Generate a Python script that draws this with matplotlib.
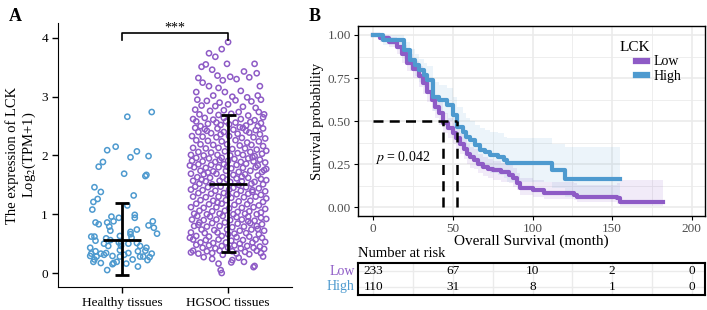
import numpy as np
import matplotlib.pyplot as plt
from matplotlib.ticker import MultipleLocator

plt.rcParams['font.family'] = ['Liberation Serif', 'DejaVu Serif']
plt.rcParams['mathtext.fontset'] = 'stix'

PURPLE = '#8E5BC6'
BLUE = '#4E9ACF'

# ---- Panel A data: jitter offset, expression value ----
groups = ['Healthy tissues', 'HGSOC tissues']
healthy_pts = [
    (0.05, 2.66), (0.28, 2.74), (-0.14, 2.09), (-0.06, 2.15), (0.14, 2.07), (0.08, 1.97),
    (0.25, 1.99), (-0.18, 1.89), (-0.22, 1.81), (0.02, 1.69), (0.22, 1.65), (0.23, 1.67),
    (-0.26, 1.46), (-0.20, 1.38), (0.11, 1.32), (-0.23, 1.26), (-0.27, 1.21), (0.05, 1.15),
    (-0.28, 1.08), (-0.10, 0.96), (-0.03, 0.94), (0.12, 0.99), (0.12, 0.94), (-0.25, 0.86),
    (-0.22, 0.83), (-0.14, 0.86), (-0.08, 0.88), (0.29, 0.88), (0.25, 0.81), (0.30, 0.77),
    (-0.12, 0.79), (-0.11, 0.72), (0.08, 0.70), (0.14, 0.74), (-0.29, 0.62), (-0.26, 0.62),
    (-0.25, 0.55), (-0.15, 0.59), (-0.11, 0.56), (-0.02, 0.63), (0.08, 0.66), (0.09, 0.60),
    (-0.17, 0.50), (-0.03, 0.52), (-0.01, 0.50), (0.14, 0.51), (0.17, 0.46), (0.23, 0.43),
    (-0.30, 0.43), (-0.29, 0.33), (-0.25, 0.37), (-0.20, 0.33), (-0.15, 0.34), (-0.02, 0.39),
    (0.06, 0.34), (0.15, 0.37), (0.22, 0.38), (0.28, 0.33), (-0.30, 0.29), (-0.24, 0.28),
    (-0.17, 0.31), (-0.09, 0.29), (-0.02, 0.28), (0.02, 0.31), (0.17, 0.28), (0.20, 0.28),
    (0.26, 0.27), (-0.27, 0.19), (-0.20, 0.17), (-0.08, 0.17), (-0.05, 0.19), (0.04, 0.16),
    (-0.09, 0.15), (0.15, 0.11), (-0.14, 0.05), (0.24, 0.22), (0.10, 0.23), (-0.26, 0.23),
    (-0.13, 0.46), (0.06, 0.50), (-0.01, 0.46), (0.33, 0.67),
]
hgsoc_pts = [
    # above 3
    (0.00, 3.93), (-0.18, 3.74), (-0.06, 3.81), (-0.12, 3.68), (-0.25, 3.51), (-0.21, 3.55),
    (-0.15, 3.46), (-0.01, 3.56), (0.25, 3.56), (0.15, 3.43), (0.27, 3.40), (0.20, 3.33),
    (0.02, 3.34), (-0.28, 3.32), (-0.10, 3.36), (-0.24, 3.24), (-0.05, 3.28), (0.08, 3.30),
    (0.30, 3.18), (-0.18, 3.18), (-0.09, 3.15), (-0.30, 3.08), (0.12, 3.10), (0.28, 3.02),
    (-0.14, 3.02), (0.04, 3.00), (-0.03, 3.08), (0.18, 2.99),
    # 2.5 - 3
    (-0.29, 2.95), (-0.20, 2.93), (-0.08, 2.90), (0.07, 2.94), (0.22, 2.92), (0.31, 2.95),
    (-0.25, 2.85), (-0.12, 2.84), (0.00, 2.87), (0.14, 2.83), (0.26, 2.81), (-0.31, 2.78),
    (-0.17, 2.76), (-0.04, 2.77), (0.10, 2.74), (0.29, 2.74), (-0.27, 2.70), (-0.09, 2.69),
    (0.03, 2.71), (0.19, 2.68), (0.33, 2.65), (-0.22, 2.64), (-0.14, 2.61), (0.12, 2.62),
    (0.25, 2.60), (-0.30, 2.58), (-0.02, 2.58), (0.07, 2.56), (0.31, 2.55), (-0.19, 2.54),
    (-0.07, 2.52), (0.17, 2.51), (0.28, 2.50), (-0.26, 2.50), (0.01, 2.53), (-0.11, 2.56),
    (0.21, 2.57), (-0.33, 2.62), (0.34, 2.70), (-0.04, 2.64),
    # 2 - 2.5
    (-0.31, 2.47), (-0.22, 2.45), (-0.10, 2.46), (0.05, 2.44), (0.14, 2.47), (0.26, 2.43),
    (0.33, 2.46), (-0.28, 2.40), (-0.16, 2.38), (-0.04, 2.40), (0.09, 2.37), (0.20, 2.39),
    (0.30, 2.36), (-0.34, 2.33), (-0.24, 2.32), (-0.11, 2.31), (0.01, 2.33), (0.13, 2.30),
    (0.24, 2.31), (0.35, 2.29), (-0.30, 2.26), (-0.19, 2.25), (-0.06, 2.24), (0.07, 2.26),
    (0.18, 2.22), (0.29, 2.24), (-0.26, 2.19), (-0.14, 2.18), (-0.01, 2.19), (0.11, 2.17),
    (0.22, 2.18), (0.33, 2.16), (-0.33, 2.13), (-0.21, 2.12), (-0.09, 2.13), (0.04, 2.11),
    (0.16, 2.12), (0.27, 2.10), (-0.28, 2.06), (-0.16, 2.05), (-0.03, 2.07), (0.09, 2.04),
    (0.21, 2.06), (0.32, 2.03), (-0.35, 2.01), (-0.23, 2.00), (-0.10, 2.01), (0.02, 2.00),
    (0.14, 2.01), (0.25, 1.99), (0.36, 2.08), (-0.07, 2.36), (0.17, 2.42), (-0.20, 2.42),
    (0.11, 2.48),
    # 1.5 - 2
    (-0.30, 1.96), (-0.18, 1.95), (-0.06, 1.96), (0.06, 1.94), (0.19, 1.95), (0.30, 1.93),
    (-0.34, 1.91), (-0.24, 1.90), (-0.12, 1.89), (0.00, 1.91), (0.12, 1.89), (0.24, 1.90),
    (0.35, 1.88), (-0.28, 1.85), (-0.16, 1.84), (-0.04, 1.85), (0.08, 1.84), (0.17, 1.86),
    (0.28, 1.83), (-0.32, 1.80), (-0.21, 1.79), (-0.09, 1.80), (0.03, 1.78), (0.14, 1.79),
    (0.26, 1.80), (0.36, 1.77), (-0.26, 1.74), (-0.14, 1.73), (-0.02, 1.74), (0.10, 1.72),
    (0.21, 1.74), (0.32, 1.72), (-0.35, 1.69), (-0.23, 1.68), (-0.11, 1.69), (0.05, 1.67),
    (0.16, 1.68), (0.28, 1.66), (-0.29, 1.63), (-0.17, 1.62), (-0.05, 1.63), (0.08, 1.61),
    (0.19, 1.62), (0.31, 1.60), (-0.33, 1.57), (-0.21, 1.56), (-0.08, 1.57), (0.02, 1.55),
    (0.13, 1.56), (0.25, 1.55), (0.36, 1.58), (-0.27, 1.52), (-0.15, 1.51), (0.10, 1.50),
    (0.22, 1.52), (0.33, 1.51), (-0.01, 1.59), (-0.36, 1.83), (0.23, 1.97), (-0.08, 1.92),
    (0.13, 1.64), (-0.19, 1.71), (0.34, 1.75), (-0.01, 1.81), (-0.25, 1.59),
    # 1 - 1.5
    (-0.31, 1.47), (-0.19, 1.46), (-0.07, 1.47), (0.05, 1.45), (0.17, 1.46), (0.29, 1.44),
    (-0.35, 1.42), (-0.24, 1.41), (-0.12, 1.40), (0.01, 1.42), (0.12, 1.40), (0.23, 1.41),
    (0.35, 1.39), (-0.28, 1.36), (-0.16, 1.35), (-0.04, 1.36), (0.08, 1.34), (0.19, 1.35),
    (0.31, 1.33), (-0.33, 1.30), (-0.21, 1.29), (-0.09, 1.30), (0.03, 1.28), (0.15, 1.29),
    (0.26, 1.30), (0.36, 1.27), (-0.26, 1.24), (-0.14, 1.23), (-0.02, 1.24), (0.10, 1.22),
    (0.21, 1.23), (0.33, 1.21), (-0.30, 1.18), (-0.18, 1.17), (-0.06, 1.18), (0.06, 1.16),
    (0.18, 1.17), (0.29, 1.15), (-0.35, 1.12), (-0.23, 1.11), (-0.11, 1.12), (0.01, 1.10),
    (0.13, 1.11), (0.24, 1.12), (0.35, 1.09), (-0.27, 1.06), (-0.15, 1.05), (-0.03, 1.06),
    (0.09, 1.04), (0.20, 1.05), (0.31, 1.03), (-0.32, 1.01), (-0.20, 1.00), (-0.08, 1.01),
    (0.05, 1.00), (0.16, 1.01), (0.27, 1.00), (0.00, 1.33), (-0.10, 1.20), (0.23, 1.38),
    # 0.5 - 1
    (-0.29, 0.97), (-0.17, 0.96), (-0.05, 0.97), (0.08, 0.95), (0.19, 0.96), (0.31, 0.94),
    (-0.34, 0.91), (-0.23, 0.90), (-0.11, 0.91), (0.02, 0.90), (0.13, 0.91), (0.25, 0.89),
    (0.36, 0.92), (-0.27, 0.86), (-0.15, 0.85), (-0.03, 0.86), (0.09, 0.84), (0.21, 0.85),
    (0.32, 0.83), (-0.32, 0.80), (-0.20, 0.79), (-0.08, 0.80), (0.04, 0.78), (0.15, 0.79),
    (0.27, 0.80), (-0.25, 0.74), (-0.13, 0.73), (-0.01, 0.74), (0.11, 0.72), (0.22, 0.74),
    (0.34, 0.72), (-0.35, 0.69), (-0.22, 0.68), (-0.10, 0.69), (0.06, 0.67), (0.17, 0.68),
    (0.29, 0.66), (-0.30, 0.63), (-0.18, 0.62), (-0.06, 0.63), (0.08, 0.61), (0.20, 0.62),
    (0.32, 0.60), (-0.33, 0.57), (-0.21, 0.56), (-0.09, 0.57), (0.03, 0.55), (0.14, 0.56),
    (0.26, 0.57), (-0.26, 0.52), (-0.14, 0.51), (0.11, 0.50), (0.23, 0.52), (0.35, 0.53),
    (-0.02, 0.52), (0.28, 0.75), (-0.28, 0.82), (0.00, 0.66), (-0.36, 0.60), (0.19, 0.88),
    # 0.3 - 0.5
    (-0.30, 0.48), (-0.18, 0.47), (-0.06, 0.46), (0.06, 0.47), (0.18, 0.46), (0.30, 0.45),
    (-0.24, 0.43), (-0.12, 0.42), (0.00, 0.43), (0.12, 0.42), (0.24, 0.43), (0.34, 0.41),
    (-0.33, 0.38), (-0.20, 0.37), (-0.08, 0.38), (0.04, 0.37), (0.16, 0.36), (0.27, 0.38),
    (-0.28, 0.33), (-0.15, 0.34), (0.08, 0.33), (0.20, 0.32), (-0.35, 0.35), (0.31, 0.34),
    (-0.05, 0.31),
    # below 0.3
    (-0.09, 0.16), (-0.07, 0.05), (-0.06, 0.00), (0.03, 0.18), (0.15, 0.19), (0.25, 0.12),
    (0.24, 0.10), (-0.23, 0.27), (0.10, 0.26), (-0.15, 0.24), (0.33, 0.28), (0.04, 0.22),
]
means = [0.57, 1.52]
lower = [-0.04, 0.36]
upper = [1.20, 2.69]

# ---- Panel B data: Kaplan-Meier steps ----
low_t = [0, 4, 10, 15, 18, 21, 25, 29, 31, 34, 37, 39, 41, 43.5, 47, 50, 52, 54.5, 57, 59,
         61, 63, 66, 69, 72, 75, 80, 85, 88, 90, 92, 100, 107, 126, 128, 153, 155, 182]
low_s = [1.0, 0.98, 0.96, 0.93, 0.89, 0.84, 0.80, 0.76, 0.72, 0.67, 0.62, 0.58, 0.545, 0.49,
         0.46, 0.43, 0.40, 0.37, 0.34, 0.31, 0.29, 0.275, 0.25, 0.235, 0.22, 0.215, 0.205,
         0.19, 0.17, 0.14, 0.11, 0.10, 0.085, 0.072, 0.062, 0.052, 0.033, 0.033]
low_lo = [1.0, 0.96, 0.93, 0.89, 0.84, 0.79, 0.75, 0.70, 0.66, 0.61, 0.56, 0.52, 0.48, 0.43,
          0.40, 0.37, 0.34, 0.31, 0.28, 0.25, 0.23, 0.22, 0.20, 0.18, 0.17, 0.16, 0.15,
          0.14, 0.12, 0.10, 0.07, 0.06, 0.05, 0.04, 0.03, 0.02, 0.01, 0.01]
low_hi = [1.0, 1.0, 0.99, 0.97, 0.94, 0.89, 0.85, 0.82, 0.78, 0.73, 0.68, 0.64, 0.61, 0.55,
          0.52, 0.49, 0.46, 0.43, 0.40, 0.37, 0.35, 0.34, 0.31, 0.29, 0.28, 0.27, 0.26,
          0.25, 0.23, 0.20, 0.17, 0.16, 0.15, 0.14, 0.13, 0.14, 0.16, 0.16]
high_t = [0, 6, 16, 19, 23, 26, 29, 32, 34, 37.5, 41, 46, 50, 52.5, 56.5, 58, 61, 64, 67,
          70, 73.5, 78, 82, 84, 112, 120.5, 155]
high_s = [1.0, 0.97, 0.97, 0.91, 0.855, 0.826, 0.797, 0.77, 0.74, 0.64, 0.623, 0.594, 0.536,
          0.468, 0.44, 0.41, 0.39, 0.36, 0.333, 0.32, 0.304, 0.29, 0.275, 0.255, 0.217, 0.162,
          0.162]
high_lo = [1.0, 0.94, 0.94, 0.86, 0.79, 0.76, 0.73, 0.70, 0.66, 0.56, 0.54, 0.50, 0.44, 0.37,
           0.34, 0.31, 0.29, 0.26, 0.23, 0.22, 0.20, 0.19, 0.17, 0.15, 0.11, 0.06, 0.06]
high_hi = [1.0, 1.0, 1.0, 0.96, 0.92, 0.89, 0.86, 0.84, 0.82, 0.73, 0.71, 0.69, 0.64, 0.58,
           0.55, 0.52, 0.50, 0.48, 0.46, 0.45, 0.44, 0.43, 0.41, 0.40, 0.37, 0.35, 0.35]
med_low, med_high = 43.5, 52.5
p_text = '$p$ = 0.042'

risk_times = [0, 50, 100, 150, 200]
risk_low = [233, 67, 10, 2, 0]
risk_high = [110, 31, 8, 1, 0]

fig = plt.figure(figsize=(7.07, 3.10), dpi=100)

# ================= Panel A =================
axA = fig.add_axes([0.0826, 0.0742, 0.330, 0.8516])
for i, (pts, col) in enumerate([(healthy_pts, BLUE), (hgsoc_pts, PURPLE)]):
    pts = np.array(pts)
    axA.scatter(i + 1 + pts[:, 0], pts[:, 1], s=14, facecolors='none', edgecolors=col,
                linewidths=1.1, zorder=2)
    axA.vlines(i + 1, lower[i], upper[i], color='black', lw=2, zorder=3)
    axA.hlines(means[i], i + 1 - 0.18, i + 1 + 0.18, color='black', lw=2, zorder=3)
    for v in (lower[i], upper[i]):
        axA.hlines(v, i + 1 - 0.07, i + 1 + 0.07, color='black', lw=2, zorder=3)

axA.plot([1, 1, 2, 2], [3.97, 4.08, 4.08, 3.97], color='black', lw=1.2, clip_on=False)
axA.text(1.5, 4.06, '***', ha='center', va='bottom', fontsize=10)
axA.set_xlim(0.4, 2.6)
axA.set_ylim(-0.238, 4.255)
axA.set_xticks([1, 2])
axA.set_xticklabels(groups, fontsize=9.5)
axA.set_yticks([0, 1, 2, 3, 4])
axA.tick_params(labelsize=9.5, length=4, width=1)
axA.spines[['top', 'right']].set_visible(False)
axA.set_ylabel('The expression of LCK\nLog$_2$(TPM+1)', fontsize=10.5, linespacing=1.15,
               labelpad=2)
fig.text(0.012, 0.975, 'A', fontsize=13, fontweight='bold', va='top')

# ================= Panel B =================
axB = fig.add_axes([0.5064, 0.3032, 0.4908, 0.6129])
axB.set_xlim(-9.6, 208.3)
axB.set_ylim(-0.05, 1.052)
axB.xaxis.set_major_locator(MultipleLocator(50))
axB.xaxis.set_minor_locator(MultipleLocator(25))
axB.yaxis.set_major_locator(MultipleLocator(0.25))
axB.yaxis.set_minor_locator(MultipleLocator(0.125))
axB.grid(which='major', color='#EBEBEB', lw=1.2)
axB.grid(which='minor', color='#EBEBEB', lw=0.6)
axB.set_axisbelow(True)
axB.tick_params(which='minor', length=0)
axB.tick_params(which='major', labelsize=9.5, labelcolor='#4D4D4D', length=3, pad=2)
axB.yaxis.set_major_formatter(plt.FuncFormatter(lambda v, _: f'{v:.2f}'))

axB.fill_between(low_t, low_lo, low_hi, step='post', color=PURPLE, alpha=0.12, lw=0)
axB.fill_between(high_t, high_lo, high_hi, step='post', color=BLUE, alpha=0.10, lw=0)
axB.step(low_t, low_s, where='post', color=PURPLE, lw=3, label='Low')
axB.step(high_t, high_s, where='post', color=BLUE, lw=3, label='High')

axB.plot([0, med_high], [0.5, 0.5], color='black', ls=(0, (4, 2.5)), lw=1.8)
axB.plot([med_low, med_low], [0, 0.5], color='black', ls=(0, (4, 2.5)), lw=1.8)
axB.plot([med_high, med_high], [0, 0.5], color='black', ls=(0, (4, 2.5)), lw=1.8)
axB.text(1, 0.29, p_text, fontsize=10, va='center')

axB.text(0.755, 0.889, 'LCK', transform=axB.transAxes, fontsize=11, va='center', ha='left')
leg = axB.legend(loc='upper left', bbox_to_anchor=(0.80, 0.845), frameon=False,
                 fontsize=10, handlelength=0.85, labelspacing=0.1, borderpad=0.0,
                 borderaxespad=0, handletextpad=0.45)
for h in leg.get_lines():
    h.set_linewidth(4.5)
axB.set_xlabel('Overall Survival (month)', fontsize=11, labelpad=0)
axB.set_ylabel('Survival probability', fontsize=10.5, labelpad=3)
for s in axB.spines.values():
    s.set_linewidth(1)
fig.text(0.437, 0.975, 'B', fontsize=13, fontweight='bold', va='top')

# ================= Risk table =================
axR = fig.add_axes([0.5064, 0.0484, 0.4908, 0.1032])
axR.set_xlim(-9.6, 208.3)
axR.set_ylim(0, 2)
axR.xaxis.set_major_locator(MultipleLocator(50))
axR.xaxis.set_minor_locator(MultipleLocator(25))
axR.set_yticks([0.5, 1.5])
axR.grid(which='both', axis='x', color='#EBEBEB', lw=1)
axR.grid(axis='y', color='#EBEBEB', lw=1)
axR.set_axisbelow(True)
axR.tick_params(which='both', length=0, labelbottom=False, labelleft=False)
for s in axR.spines.values():
    s.set_linewidth(1.5)
for t, a, b in zip(risk_times, risk_low, risk_high):
    axR.text(t, 1.5, str(a), ha='center', va='center', fontsize=9.5)
    axR.text(t, 0.5, str(b), ha='center', va='center', fontsize=9.5)
axR.text(-0.01, 0.75, 'Low', color=PURPLE, transform=axR.transAxes, ha='right', va='center',
         fontsize=10)
axR.text(-0.01, 0.25, 'High', color=BLUE, transform=axR.transAxes, ha='right', va='center',
         fontsize=10)
axR.text(0.0, 1.08, 'Number at risk', transform=axR.transAxes, ha='left', va='bottom',
         fontsize=10.5)

fig.savefig('out.png', dpi=100)
